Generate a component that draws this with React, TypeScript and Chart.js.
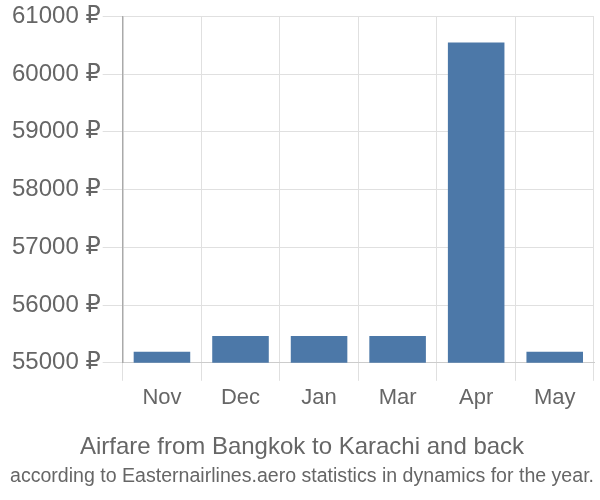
import React, { useEffect, useRef } from "react";
import { Chart, registerables } from "chart.js";

Chart.register(...registerables);

const categories = ["Nov", "Dec", "Jan", "Mar", "Apr", "May"];
const prices = [55190, 55465, 55465, 55465, 60550, 55190];
const titleText = "Airfare from Bangkok to Karachi and back";
const subtitleText = "according to Easternairlines.aero statistics in dynamics for the year.";

export default function App() {
  const ref = useRef<HTMLCanvasElement>(null);
  useEffect(() => {
    document.body.style.margin = "0";
    const chart = new Chart(ref.current!, {
      type: "bar",
      data: {
        labels: categories,
        datasets: [
          {
            data: prices,
            backgroundColor: "#4c78a8",
            borderWidth: 0,
          },
        ],
      },
      options: {
        animation: false,
        responsive: false,
        maintainAspectRatio: false,
        layout: { padding: { top: 0, right: 6, left: 10, bottom: 4 } },
        plugins: {
          legend: { display: false },
          tooltip: { enabled: false },
          title: {
            display: true,
            text: titleText,
            position: "bottom",
            weight: 1000,
            color: "#666",
            font: { family: "Liberation Sans, Arial, sans-serif", size: 24, weight: "normal" },
            padding: { top: 18, bottom: 0 },
          },
          subtitle: {
            display: true,
            text: subtitleText,
            position: "bottom",
            weight: 2000,
            color: "#666",
            font: { family: "Liberation Sans, Arial, sans-serif", size: 20, weight: "normal" },
            padding: { top: 2, bottom: 8 },
          },
        } as any,
        scales: {
          x: {
            offset: true,
            grid: {
              offset: true,
              color: "#e0e0e0",
              lineWidth: 1,
              tickLength: 18,
              drawTicks: true,
            },
            border: { display: true, color: "#ccc" },
            ticks: {
              color: "#666",
              font: { family: "Liberation Sans, Arial, sans-serif", size: 22 },
              padding: 4,
            },
          },
          y: {
            min: 55000,
            max: 61000,
            grid: { color: "#e0e0e0", tickLength: 20 },
            border: { display: true, color: "#aaa", width: 1.5 },
            ticks: {
              stepSize: 1000,
              color: "#666",
              font: { family: "Liberation Sans, DejaVu Sans, sans-serif", size: 24 },
              padding: 2,
              callback: (v: any) => `${v} ₽`,
            },
          },
        },
      },
    });
    return () => chart.destroy();
  }, []);
  return (
    <div style={{ position: "absolute", left: 0, top: 0, width: 600, height: 500 }}>
      <canvas ref={ref} width={600} height={500} />
    </div>
  );
}
